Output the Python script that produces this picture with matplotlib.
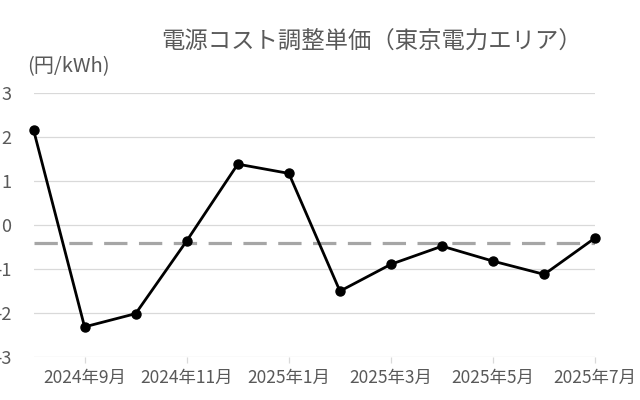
import matplotlib
matplotlib.use("Agg")
import matplotlib.pyplot as plt

plt.rcParams['font.family'] = ['Noto Sans CJK JP', 'DejaVu Sans']

months = ["2024年8月", "2024年9月", "2024年10月", "2024年11月", "2024年12月", "2025年1月",
          "2025年2月", "2025年3月", "2025年4月", "2025年5月", "2025年6月", "2025年7月"]
values = [2.16, -2.31, -2.01, -0.36, 1.38, 1.17, -1.50, -0.89, -0.48, -0.82, -1.12, -0.29]
reference_level = -0.41
yticks = [3, 2, 1, 0, -1, -2, -3]
ytick_labels = ["3", "2", "1", "0", "-1", "-2", "-3"]
title = "電源コスト調整単価（東京電力エリア）"
unit = "(円/kWh)"

gray_text = "#595959"

fig = plt.figure(figsize=(6.4, 4.0), dpi=100)
ax = fig.add_axes([33.5/640, 1-357.3/400, (595.3-33.5)/640, (357.3-92.7)/400])

x = list(range(len(months)))
ax.set_xlim(0, len(months) - 1)
ax.set_ylim(-3, 3)

for v in yticks:
    ax.axhline(v, color="#D9D9D9", lw=0.9, zorder=0)

ax.axhline(reference_level, color="#A6A6A6", lw=2.3, dashes=(7.3, 3.6), zorder=1)
ax.plot(x, values, color="black", lw=2.0, marker="o", markersize=6.5, zorder=3, clip_on=False)

for s in ax.spines.values():
    s.set_visible(False)

ax.set_yticks(yticks)
ax.set_yticklabels(ytick_labels)
ax.tick_params(axis="y", length=0, pad=16, labelsize=13, labelcolor=gray_text)

tick_idx = x[1::2]
ax.set_xticks(tick_idx)
ax.set_xticklabels([months[i] for i in tick_idx])
ax.tick_params(axis="x", length=4, width=0.9, color="#D9D9D9", pad=4, labelsize=12.5, labelcolor=gray_text)

fig.text(372/640, 1-42/400, title, ha="center", va="center", fontsize=16.8, color=gray_text)
fig.text(68/640, 1-67/400, unit, ha="center", va="center", fontsize=14.5, color=gray_text)

fig.savefig("out.png", dpi=100)
